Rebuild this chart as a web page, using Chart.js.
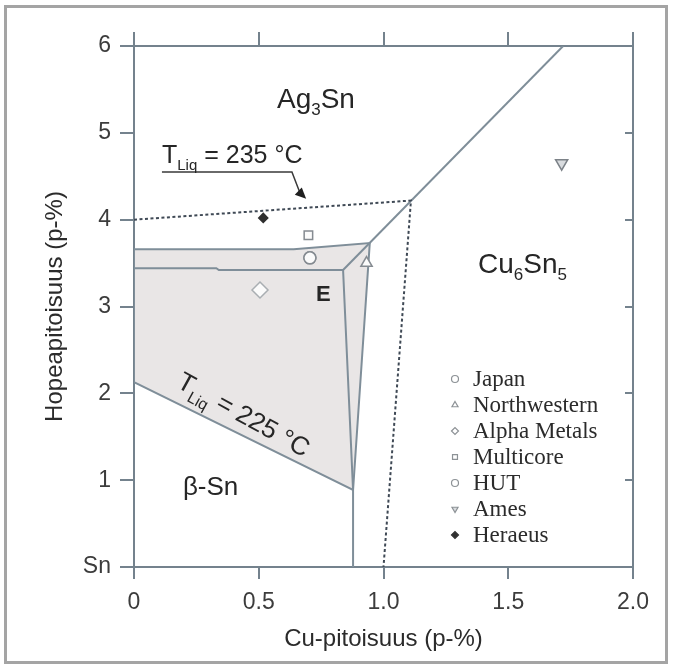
<!DOCTYPE html>
<html>
<head>
<meta charset="utf-8">
<script src="https://cdn.jsdelivr.net/npm/chart.js@4.4.0/dist/chart.umd.min.js"></script>
<style>
  body { margin: 0; background: #fff; }
  #wrap { position: relative; width: 674px; height: 668px; }
  #myChart { display: block; }
  #frame { position: absolute; left: 4px; top: 5px; width: 658px; height: 653px; border: 3px solid #a4a4a4; pointer-events: none; }
</style>
</head>
<body>
<div id="wrap">
  <canvas id="myChart" width="674" height="668"></canvas>
  <div id="frame"></div>
</div>
<script>
// x = Cu (p-%), y = Ag (p-%)
var xTicks = [0, 0.5, 1.0, 1.5, 2.0];
var yTickNames = ['Sn', '1', '2', '3', '4', '5', '6'];

// phase boundaries
var shadedRegion = [{x:0, y:3.66}, {x:0.64, y:3.66}, {x:0.945, y:3.73}, {x:0.878, y:0.887}, {x:0, y:2.13}, {x:0, y:3.66}];
var eutecticLine = [{x:0, y:3.44}, {x:0.33, y:3.44}, {x:0.34, y:3.42}, {x:0.838, y:3.42}];
var snEdge = [{x:0.838, y:3.42}, {x:0.878, y:0.887}, {x:0.878, y:0}];
var cu6Edge = [{x:0.838, y:3.42}, {x:1.72, y:6}];
var liquidus235 = [{x:0, y:4.0}, {x:1.11, y:4.22}, {x:1.0, y:0}];
var leaderLine = [{x:0.112, y:4.55}, {x:0.633, y:4.55}, {x:0.665, y:4.31}, {x:0.69, y:4.24}];

// measured alloys
var japan = [{x:0.705, y:3.56}];
var northwestern = [{x:0.932, y:3.50}];
var alphaMetals = [{x:0.505, y:3.19}];
var multicore = [{x:0.699, y:3.82}];
var hut = [{x:0.705, y:3.56}];
var ames = [{x:1.714, y:4.65}];
var heraeus = [{x:0.518, y:4.02}];

var sans = "'Liberation Sans', Arial, sans-serif";
var narrow = "'Liberation Sans Narrow', 'Liberation Sans', Arial, sans-serif";
var serif = "'Liberation Serif', 'Times New Roman', serif";
var axisColor = '#74828d';
var phaseColor = '#7f8e99';
var markColor = '#858b91';

function marker(label, data, style, r, extra) {
  var d = { label: label, data: data, isLegend: true, pointStyle: style, pointRadius: r,
    borderColor: markColor, backgroundColor: '#fbfbfb', pointBorderWidth: 1.5, showLine: false };
  for (var k in extra) d[k] = extra[k];
  return d;
}
function line(data, color, width, extra) {
  var d = { data: data, showLine: true, pointRadius: 0, borderColor: color, borderWidth: width, fill: false, tension: 0 };
  for (var k in extra) d[k] = extra[k];
  return d;
}

function rich(ctx, parts, x, y, size, weight, align) {
  var w = 0;
  var fontOf = function(p) { return (weight || '') + ' ' + (p[1] ? Math.round(size * 0.6) : size) + 'px ' + sans; };
  parts.forEach(function(p) { ctx.font = fontOf(p); w += ctx.measureText(p[0]).width; });
  if (align === 'center') x -= w / 2;
  parts.forEach(function(p) {
    ctx.font = fontOf(p);
    ctx.fillText(p[0], x, y + (p[1] ? size * 0.28 : 0));
    x += ctx.measureText(p[0]).width;
  });
}

var notes = {
  id: 'notes',
  afterDatasetsDraw: function(chart) {
    var ctx = chart.ctx, xs = chart.scales.x, ys = chart.scales.y;
    var X = function(v) { return xs.getPixelForValue(v); };
    var Y = function(v) { return ys.getPixelForValue(v); };
    ctx.save();
    ctx.fillStyle = '#262626';
    ctx.textBaseline = 'alphabetic';
    ctx.textAlign = 'left';
    rich(ctx, [['Ag', 0], ['3', 1], ['Sn', 0]], X(0.573), Y(5.29), 28);
    rich(ctx, [['Cu', 0], ['6', 1], ['Sn', 0], ['5', 1]], X(1.379), Y(3.39), 28);
    rich(ctx, [['\u03b2-Sn', 0]], X(0.196), Y(0.83), 26);
    rich(ctx, [['E', 0]], X(0.729), Y(3.06), 22, 'bold');
    rich(ctx, [['T', 0], ['Liq', 1], [' = 235 \u00b0C', 0]], X(0.112), Y(4.65), 25);

    // rotated label along the 225 line
    ctx.save();
    ctx.translate(X(0.441), Y(1.76));
    ctx.rotate(29 * Math.PI / 180);
    rich(ctx, [['T', 0], ['Liq', 1], [' = 225 \u00b0C', 0]], 0, 9, 26, '', 'center');
    ctx.restore();

    // arrow head of the leader
    var n = leaderLine.length;
    var tx = X(leaderLine[n - 1].x), ty = Y(leaderLine[n - 1].y);
    var a = Math.atan2(ty - Y(leaderLine[n - 2].y), tx - X(leaderLine[n - 2].x));
    ctx.beginPath();
    ctx.moveTo(tx, ty);
    ctx.lineTo(tx - 11 * Math.cos(a) + 5 * Math.sin(a), ty - 11 * Math.sin(a) - 5 * Math.cos(a));
    ctx.lineTo(tx - 11 * Math.cos(a) - 5 * Math.sin(a), ty - 11 * Math.sin(a) + 5 * Math.cos(a));
    ctx.closePath();
    ctx.fillStyle = '#1f1f1f';
    ctx.fill();

    // legend inside the plot
    var lx = chart.chartArea.left + 321, ly = chart.chartArea.top + 333;
    ctx.font = '23px ' + serif;
    ctx.textBaseline = 'middle';
    chart.data.datasets.forEach(function(ds) {
      if (!ds.isLegend) return;
      ctx.strokeStyle = ds.pointStyle === 'rectRot' && ds.backgroundColor !== '#fbfbfb' ? '#333' : '#8d9296';
      ctx.fillStyle = ds.backgroundColor === '#fbfbfb' ? '#ffffff' : ds.backgroundColor;
      ctx.lineWidth = 1.2;
      Chart.helpers.drawPoint(ctx, { pointStyle: ds.pointStyle, radius: 3.5, rotation: ds.pointRotation || 0, borderWidth: 1.2 }, lx, ly);
      ctx.fillStyle = '#2b2b2b';
      ctx.fillText(ds.label, lx + 18, ly + 1);
      ly += 26;
    });
    ctx.restore();
  }
};

var ctx = document.getElementById('myChart').getContext('2d');
var myChart = new Chart(ctx, {
  type: 'scatter',
  data: {
    datasets: [
      marker('Japan', japan, 'circle', 6),
      marker('Northwestern', northwestern, 'triangle', 6.5),
      marker('Alpha Metals', alphaMetals, 'rectRot', 8, { borderColor: '#a9aeb2' }),
      marker('Multicore', multicore, 'rect', 6),
      marker('HUT', hut, 'circle', 6),
      marker('Ames', ames, 'triangle', 7, { pointRotation: 180, backgroundColor: '#d9dcdf', borderColor: '#7c8288' }),
      marker('Heraeus', heraeus, 'rectRot', 4.5, { backgroundColor: '#2f2f2f', borderColor: '#2f2f2f' }),
      line(leaderLine.slice(0, 3), '#3a3a3a', 1.5),
      line(liquidus235, '#3f4955', 2, { borderDash: [3, 2.5] }),
      line(cu6Edge, phaseColor, 2),
      line(snEdge, phaseColor, 2),
      line(eutecticLine, phaseColor, 2),
      line(shadedRegion, phaseColor, 2, { fill: 'shape', backgroundColor: '#e9e6e6' })
    ]
  },
  options: {
    responsive: false,
    animation: false,
    layout: { padding: 0 },
    plugins: { legend: { display: false }, tooltip: { enabled: false } },
    scales: {
      x: {
        type: 'linear', position: 'bottom', min: 0, max: 2,
        afterFit: function(s) { s.height = 101; },
        afterBuildTicks: function(s) { s.ticks = xTicks.map(function(v) { return { value: v }; }); },
        border: { color: axisColor, width: 2 },
        grid: { drawOnChartArea: false, tickLength: 12, color: axisColor, lineWidth: 2 },
        ticks: { padding: 10, color: '#3c3c3c', font: { family: narrow, size: 23 },
          callback: function(v) { return v === 0 ? '0' : v.toFixed(1); } },
        title: { display: true, text: 'Cu-pitoisuus (p-%)', color: '#2b2b2b', font: { family: sans, size: 24 }, padding: { top: 0, bottom: 14 } }
      },
      x2: {
        type: 'linear', position: 'top', min: 0, max: 2,
        afterFit: function(s) { s.height = 46; },
        afterBuildTicks: function(s) { s.ticks = xTicks.map(function(v) { return { value: v }; }); },
        border: { color: axisColor, width: 2 },
        grid: { drawOnChartArea: false, tickLength: 14, color: axisColor, lineWidth: 2 },
        ticks: { display: false }
      },
      y: {
        type: 'linear', position: 'left', min: 0, max: 6,
        afterFit: function(s) { s.width = 134; },
        border: { color: axisColor, width: 2 },
        grid: { drawOnChartArea: false, tickLength: 14, color: axisColor, lineWidth: 2 },
        ticks: { stepSize: 1, padding: 9, color: '#3c3c3c', font: { family: narrow, size: 23 },
          callback: function(v) { return yTickNames[v]; } },
        title: { display: true, text: 'Hopeapitoisuus (p-%)', color: '#2b2b2b', font: { family: sans, size: 24 }, padding: { top: 41, bottom: 0 } }
      },
      y2: {
        type: 'linear', position: 'right', min: 0, max: 6,
        afterFit: function(s) { s.width = 41; },
        border: { color: axisColor, width: 2 },
        grid: { drawOnChartArea: false, tickLength: -8, color: axisColor, lineWidth: 2 },
        ticks: { stepSize: 1, display: false }
      }
    }
  },
  plugins: [notes]
});
</script>
</body>
</html>
